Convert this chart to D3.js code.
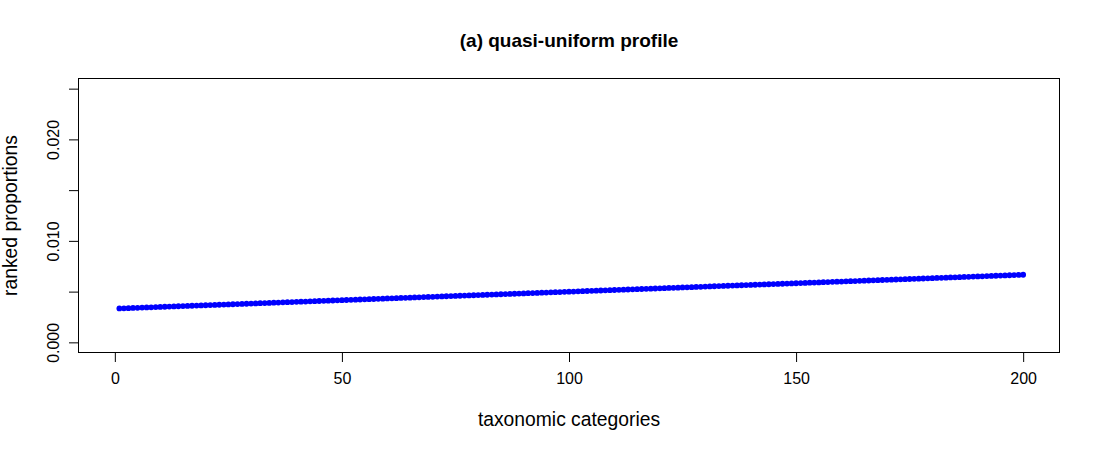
<!DOCTYPE html>
<html>
<head>
<meta charset="utf-8">
<script src="https://cdn.jsdelivr.net/npm/d3@7"></script>
<style>
  html, body { margin: 0; padding: 0; background: #fff; }
  svg { display: block; font-family: "Liberation Sans", Arial, sans-serif; }
</style>
</head>
<body>
<svg id="chart" width="1100" height="451"></svg>
<script>
// ---- data ----
const titleText = "(a) quasi-uniform profile";
const xLabel = "taxonomic categories";
const yLabel = "ranked proportions";
const xTicks = [0, 50, 100, 150, 200];
const yTicks = [0, 0.005, 0.010, 0.015, 0.020, 0.025];
const yTickLabels = ["0.000", "", "0.010", "", "0.020", ""];
const proportions = [
  0.003339,0.003356,0.003372,0.003389,0.003406,0.003422,0.003439,0.003456,0.003472,0.003489,
  0.003506,0.003523,0.003539,0.003556,0.003573,0.003589,0.003606,0.003623,0.003639,0.003656,
  0.003673,0.003689,0.003706,0.003723,0.003740,0.003756,0.003773,0.003790,0.003806,0.003823,
  0.003840,0.003856,0.003873,0.003890,0.003907,0.003923,0.003940,0.003957,0.003973,0.003990,
  0.004007,0.004023,0.004040,0.004057,0.004073,0.004090,0.004107,0.004124,0.004140,0.004157,
  0.004174,0.004190,0.004207,0.004224,0.004240,0.004257,0.004274,0.004290,0.004307,0.004324,
  0.004341,0.004357,0.004374,0.004391,0.004407,0.004424,0.004441,0.004457,0.004474,0.004491,
  0.004508,0.004524,0.004541,0.004558,0.004574,0.004591,0.004608,0.004624,0.004641,0.004658,
  0.004674,0.004691,0.004708,0.004725,0.004741,0.004758,0.004775,0.004791,0.004808,0.004825,
  0.004841,0.004858,0.004875,0.004892,0.004908,0.004925,0.004942,0.004958,0.004975,0.004992,
  0.005008,0.005025,0.005042,0.005058,0.005075,0.005092,0.005109,0.005125,0.005142,0.005159,
  0.005175,0.005192,0.005209,0.005225,0.005242,0.005259,0.005275,0.005292,0.005309,0.005326,
  0.005342,0.005359,0.005376,0.005392,0.005409,0.005426,0.005442,0.005459,0.005476,0.005492,
  0.005509,0.005526,0.005543,0.005559,0.005576,0.005593,0.005609,0.005626,0.005643,0.005659,
  0.005676,0.005693,0.005710,0.005726,0.005743,0.005760,0.005776,0.005793,0.005810,0.005826,
  0.005843,0.005860,0.005876,0.005893,0.005910,0.005927,0.005943,0.005960,0.005977,0.005993,
  0.006010,0.006027,0.006043,0.006060,0.006077,0.006093,0.006110,0.006127,0.006144,0.006160,
  0.006177,0.006194,0.006210,0.006227,0.006244,0.006260,0.006277,0.006294,0.006311,0.006327,
  0.006344,0.006361,0.006377,0.006394,0.006411,0.006427,0.006444,0.006461,0.006477,0.006494,
  0.006511,0.006528,0.006544,0.006561,0.006578,0.006594,0.006611,0.006628,0.006644,0.006661
];

// ---- layout ----
const box = { left: 78.5, right: 1059.5, top: 78.5, bottom: 352.5 };
const svg = d3.select("#chart");

const x = d3.scaleLinear().domain([-8, 208]).range([box.left, box.right]);
const y = d3.scaleLinear().domain([-0.001, 0.026]).range([box.bottom, box.top]);

// points
svg.append("g")
  .selectAll("circle")
  .data(proportions)
  .join("circle")
  .attr("cx", (d, i) => x(i + 1))
  .attr("cy", d => y(d))
  .attr("r", 2.9)
  .attr("fill", "#0000ff");

// x axis
const xAxis = svg.append("g")
  .attr("transform", `translate(0,${box.bottom})`)
  .call(d3.axisBottom(x).tickValues(xTicks).tickSize(9.5).tickPadding(11).tickSizeOuter(0));
xAxis.select(".domain")
  .attr("d", `M${x(xTicks[0])},0H${x(xTicks[xTicks.length - 1])}`)
  .attr("stroke", "#000");
xAxis.selectAll(".tick line").attr("stroke", "#000");
xAxis.selectAll(".tick text").attr("font-size", "16px").attr("fill", "#000")
  .attr("font-family", "'Liberation Sans', Arial, sans-serif");

// y axis
const yAxis = svg.append("g")
  .attr("transform", `translate(${box.left},0)`)
  .call(d3.axisLeft(y).tickValues(yTicks).tickSize(9.5).tickSizeOuter(0)
    .tickFormat((d, i) => yTickLabels[i]));
yAxis.select(".domain")
  .attr("d", `M0,${y(yTicks[0])}V${y(yTicks[yTicks.length - 1])}`)
  .attr("stroke", "#000");
yAxis.selectAll(".tick line").attr("stroke", "#000");
yAxis.selectAll(".tick text")
  .attr("font-size", "16px").attr("fill", "#000")
  .attr("font-family", "'Liberation Sans', Arial, sans-serif")
  .attr("x", null).attr("dy", null)
  .attr("text-anchor", "middle")
  .attr("transform", "translate(-20,0) rotate(-90)");

// box
svg.append("rect")
  .attr("x", box.left).attr("y", box.top)
  .attr("width", box.right - box.left).attr("height", box.bottom - box.top)
  .attr("fill", "none").attr("stroke", "#000").attr("stroke-width", 1);

// title
svg.append("text")
  .attr("x", (box.left + box.right) / 2).attr("y", 47)
  .attr("text-anchor", "middle")
  .attr("font-size", "19px").attr("font-weight", "bold")
  .text(titleText);

// axis labels
svg.append("text")
  .attr("x", (box.left + box.right) / 2).attr("y", 426)
  .attr("text-anchor", "middle")
  .attr("font-size", "19.3px")
  .text(xLabel);

svg.append("text")
  .attr("transform", `translate(17,${(box.top + box.bottom) / 2}) rotate(-90)`)
  .attr("text-anchor", "middle")
  .attr("font-size", "19.3px")
  .text(yLabel);
</script>
</body>
</html>
